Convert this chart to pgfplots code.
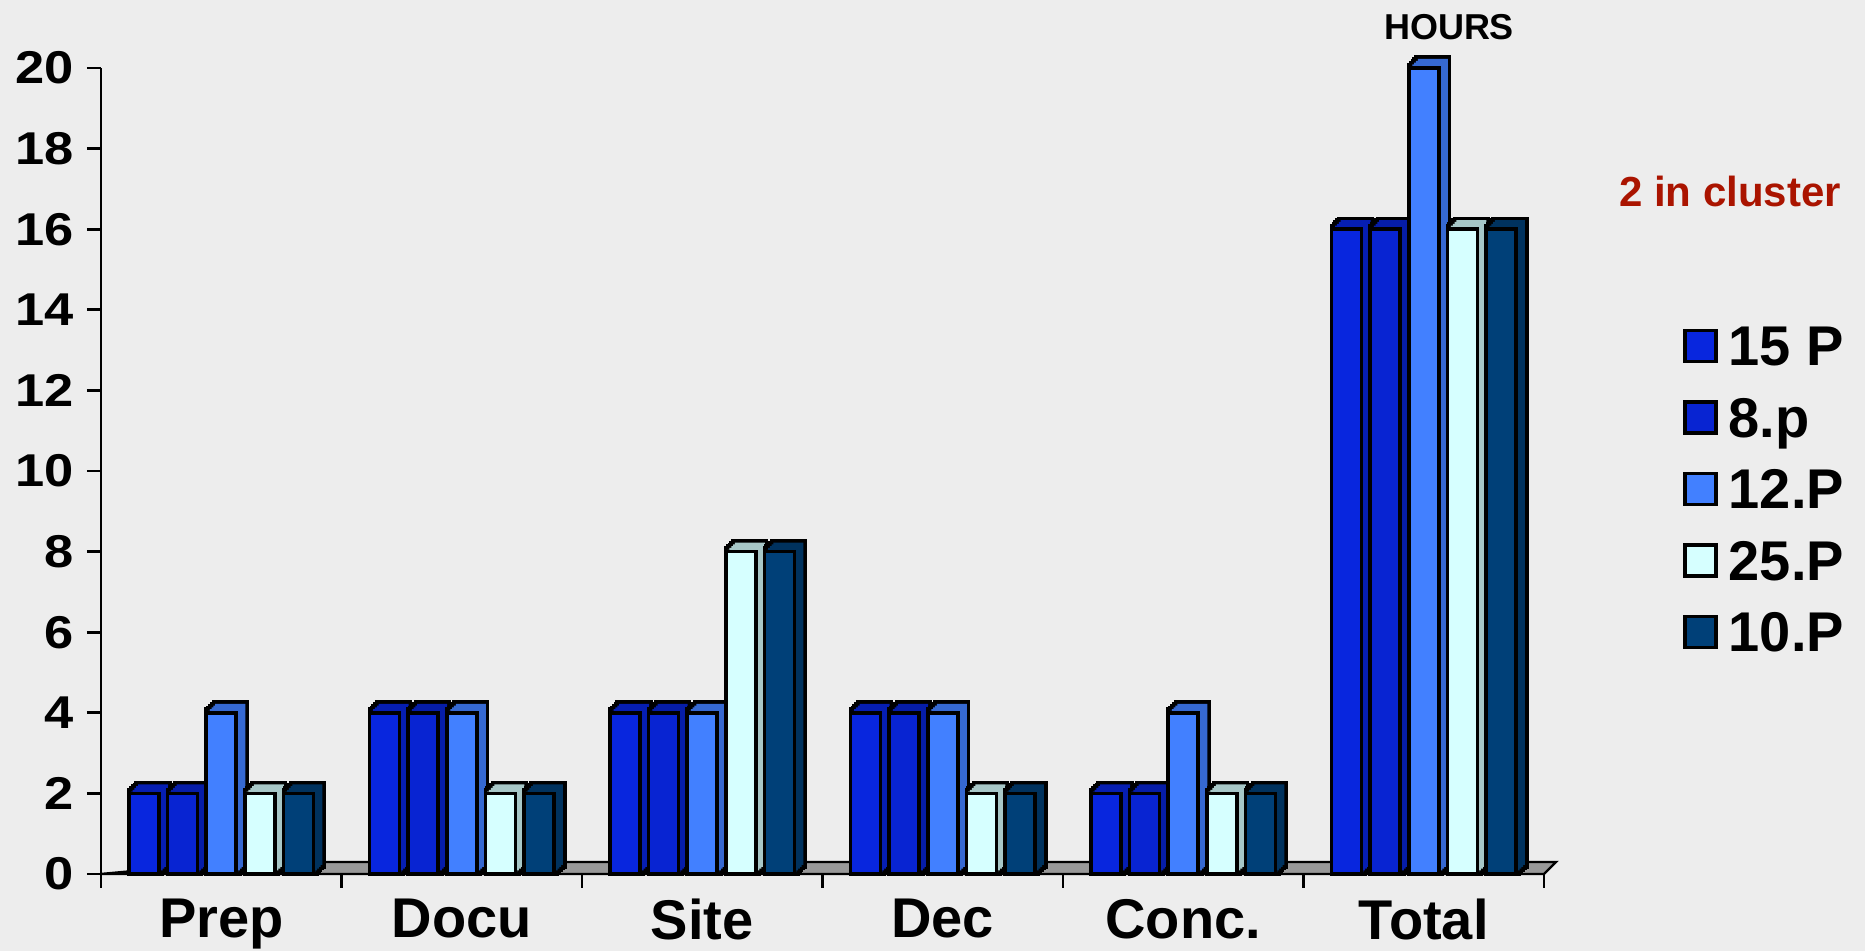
\documentclass[border=0pt]{standalone}
\usepackage{fontspec}
\setmainfont{Liberation Sans}
\newfontfamily\tickfont[FakeStretch=1.14]{Liberation Sans}
\usepackage{pgfplots}
\usepackage{pgfplotstable}
\pgfplotsset{compat=1.18}
\definecolor{bg}{RGB}{237,237,237}
\definecolor{cA}{RGB}{8,38,222}
\definecolor{cB}{RGB}{8,36,210}
\definecolor{cC}{RGB}{66,128,255}
\definecolor{cD}{RGB}{214,255,255}
\definecolor{cE}{RGB}{0,64,120}
\definecolor{floorc}{RGB}{153,153,153}
\definecolor{clu}{RGB}{170,20,0}
\pgfplotstableread{
x a b c d e
0 2 2 4 2 2
1 4 4 4 2 2
2 4 4 4 8 8
3 4 4 4 2 2
4 2 2 4 2 2
5 16 16 20 16 16
}\datatable
\begin{document}
\begin{tikzpicture}
\fill[bg] (0,0) rectangle (932.5pt,475.5pt);
\useasboundingbox (0,0) rectangle (932.5pt,475.5pt);
\begin{axis}[
  at={(50.5pt,38.5pt)}, anchor=south west,
  scale only axis, width=721.5pt, height=403pt,
  xmin=-0.5, xmax=5.5, ymin=0, ymax=20,
  clip=false,
  axis lines*=left,
  axis line style={line width=1.4pt, -},
  every tick/.style={line width=1.4pt, black},
  tick align=outside,
  major tick length=7pt,
  ytick={0,2,...,20},
  xtick={0,...,5},
  xticklabels={Prep,Docu,Site,Dec,Conc.,Total},
  xtick style={draw=none},
  extra x ticks={-0.5,0.5,...,5.5},
  extra x tick labels={},
  extra x tick style={xtick style={draw=black}},
  /pgf/number format/assume math mode=true,
  yticklabel style={font=\tickfont\bfseries\fontsize{23}{25}\selectfont, inner sep=0pt, xshift=-6.5pt},
  xticklabel style={font=\bfseries\fontsize{28}{30}\selectfont, inner sep=0pt, yshift=-5.5pt},
  legend style={at={(1.0963,0.680)}, anchor=north west, draw=none, fill=none, inner sep=0pt, outer sep=0pt,
    font=\bfseries\fontsize{28}{30}\selectfont, row sep=15.75pt,
    nodes={inner sep=0pt, outer sep=0pt, text height=20pt, text depth=0pt}, cells={anchor=west}},
  legend image code/.code={\draw[#1, line width=1.8pt] (0pt,-7.75pt) rectangle (15.5pt,7.75pt); \path[draw=none,fill=none] (0,0) -- (22pt,0);},
  stroke/.style={ybar, bar width=15pt, draw=black, line width=3.6pt, fill=none, forget plot},
  fillc/.style={ybar, bar width=15pt, draw=none, fill=#1, forget plot},
  front/.style={ybar, bar width=15pt, draw=black, line width=1.8pt, fill=#1},
]
\fill[floorc, draw=black, line width=1.2pt] (axis cs:-0.5,0) -- (axis cs:5.5,0) -- ++(6pt,6pt) -- ++(-721.5pt,0) -- cycle;
% ---- series 15 P (front shift -38.6pt)
\addplot[stroke, bar shift=-37.7pt, yshift=0.9pt] table[x=x,y=a]{\datatable};
\addplot[stroke, bar shift=-36.8pt, yshift=1.8pt] table[x=x,y=a]{\datatable};
\addplot[stroke, bar shift=-35.9pt, yshift=2.7pt] table[x=x,y=a]{\datatable};
\addplot[stroke, bar shift=-35.0pt, yshift=3.6pt] table[x=x,y=a]{\datatable};
\addplot[stroke, bar shift=-34.1pt, yshift=4.5pt] table[x=x,y=a]{\datatable};
\addplot[fillc=cA!80!black, bar shift=-34.1pt, yshift=4.5pt] table[x=x,y=a]{\datatable};
\addplot[fillc=cA!80!black, bar shift=-35.0pt, yshift=3.6pt] table[x=x,y=a]{\datatable};
\addplot[fillc=cA!80!black, bar shift=-35.9pt, yshift=2.7pt] table[x=x,y=a]{\datatable};
\addplot[fillc=cA!80!black, bar shift=-36.8pt, yshift=1.8pt] table[x=x,y=a]{\datatable};
\addplot[fillc=cA!80!black, bar shift=-37.7pt, yshift=0.9pt] table[x=x,y=a]{\datatable};
\addplot[front=cA, bar shift=-38.6pt] table[x=x,y=a]{\datatable};
% ---- series 8.p (front shift -19.3pt)
\addplot[stroke, bar shift=-18.4pt, yshift=0.9pt] table[x=x,y=b]{\datatable};
\addplot[stroke, bar shift=-17.5pt, yshift=1.8pt] table[x=x,y=b]{\datatable};
\addplot[stroke, bar shift=-16.6pt, yshift=2.7pt] table[x=x,y=b]{\datatable};
\addplot[stroke, bar shift=-15.7pt, yshift=3.6pt] table[x=x,y=b]{\datatable};
\addplot[stroke, bar shift=-14.8pt, yshift=4.5pt] table[x=x,y=b]{\datatable};
\addplot[fillc=cB!80!black, bar shift=-14.8pt, yshift=4.5pt] table[x=x,y=b]{\datatable};
\addplot[fillc=cB!80!black, bar shift=-15.7pt, yshift=3.6pt] table[x=x,y=b]{\datatable};
\addplot[fillc=cB!80!black, bar shift=-16.6pt, yshift=2.7pt] table[x=x,y=b]{\datatable};
\addplot[fillc=cB!80!black, bar shift=-17.5pt, yshift=1.8pt] table[x=x,y=b]{\datatable};
\addplot[fillc=cB!80!black, bar shift=-18.4pt, yshift=0.9pt] table[x=x,y=b]{\datatable};
\addplot[front=cB, bar shift=-19.3pt] table[x=x,y=b]{\datatable};
% ---- series 12.P (front shift 0pt)
\addplot[stroke, bar shift=0.9pt, yshift=0.9pt] table[x=x,y=c]{\datatable};
\addplot[stroke, bar shift=1.8pt, yshift=1.8pt] table[x=x,y=c]{\datatable};
\addplot[stroke, bar shift=2.7pt, yshift=2.7pt] table[x=x,y=c]{\datatable};
\addplot[stroke, bar shift=3.6pt, yshift=3.6pt] table[x=x,y=c]{\datatable};
\addplot[stroke, bar shift=4.5pt, yshift=4.5pt] table[x=x,y=c]{\datatable};
\addplot[fillc=cC!82!black, bar shift=4.5pt, yshift=4.5pt] table[x=x,y=c]{\datatable};
\addplot[fillc=cC!82!black, bar shift=3.6pt, yshift=3.6pt] table[x=x,y=c]{\datatable};
\addplot[fillc=cC!82!black, bar shift=2.7pt, yshift=2.7pt] table[x=x,y=c]{\datatable};
\addplot[fillc=cC!82!black, bar shift=1.8pt, yshift=1.8pt] table[x=x,y=c]{\datatable};
\addplot[fillc=cC!82!black, bar shift=0.9pt, yshift=0.9pt] table[x=x,y=c]{\datatable};
\addplot[front=cC, bar shift=0pt] table[x=x,y=c]{\datatable};
% ---- series 25.P (front shift 19.3pt)
\addplot[stroke, bar shift=20.2pt, yshift=0.9pt] table[x=x,y=d]{\datatable};
\addplot[stroke, bar shift=21.1pt, yshift=1.8pt] table[x=x,y=d]{\datatable};
\addplot[stroke, bar shift=22.0pt, yshift=2.7pt] table[x=x,y=d]{\datatable};
\addplot[stroke, bar shift=22.9pt, yshift=3.6pt] table[x=x,y=d]{\datatable};
\addplot[stroke, bar shift=23.8pt, yshift=4.5pt] table[x=x,y=d]{\datatable};
\addplot[fillc=cD!78!black, bar shift=23.8pt, yshift=4.5pt] table[x=x,y=d]{\datatable};
\addplot[fillc=cD!78!black, bar shift=22.9pt, yshift=3.6pt] table[x=x,y=d]{\datatable};
\addplot[fillc=cD!78!black, bar shift=22.0pt, yshift=2.7pt] table[x=x,y=d]{\datatable};
\addplot[fillc=cD!78!black, bar shift=21.1pt, yshift=1.8pt] table[x=x,y=d]{\datatable};
\addplot[fillc=cD!78!black, bar shift=20.2pt, yshift=0.9pt] table[x=x,y=d]{\datatable};
\addplot[front=cD, bar shift=19.3pt] table[x=x,y=d]{\datatable};
% ---- series 10.P (front shift 38.6pt)
\addplot[stroke, bar shift=39.5pt, yshift=0.9pt] table[x=x,y=e]{\datatable};
\addplot[stroke, bar shift=40.4pt, yshift=1.8pt] table[x=x,y=e]{\datatable};
\addplot[stroke, bar shift=41.3pt, yshift=2.7pt] table[x=x,y=e]{\datatable};
\addplot[stroke, bar shift=42.2pt, yshift=3.6pt] table[x=x,y=e]{\datatable};
\addplot[stroke, bar shift=43.1pt, yshift=4.5pt] table[x=x,y=e]{\datatable};
\addplot[fillc=cE!78!black, bar shift=43.1pt, yshift=4.5pt] table[x=x,y=e]{\datatable};
\addplot[fillc=cE!78!black, bar shift=42.2pt, yshift=3.6pt] table[x=x,y=e]{\datatable};
\addplot[fillc=cE!78!black, bar shift=41.3pt, yshift=2.7pt] table[x=x,y=e]{\datatable};
\addplot[fillc=cE!78!black, bar shift=40.4pt, yshift=1.8pt] table[x=x,y=e]{\datatable};
\addplot[fillc=cE!78!black, bar shift=39.5pt, yshift=0.9pt] table[x=x,y=e]{\datatable};
\addplot[front=cE, bar shift=38.6pt] table[x=x,y=e]{\datatable};
\legend{15 P, 8.p, 12.P, 25.P, 10.P}
\end{axis}
\node[font=\bfseries\fontsize{18}{20}\selectfont] at (724.5pt,462pt) {HOURS};
\node[font=\bfseries\fontsize{21}{23}\selectfont, text=clu] at (865pt,379.75pt) {2 in cluster};
\end{tikzpicture}
\end{document}
